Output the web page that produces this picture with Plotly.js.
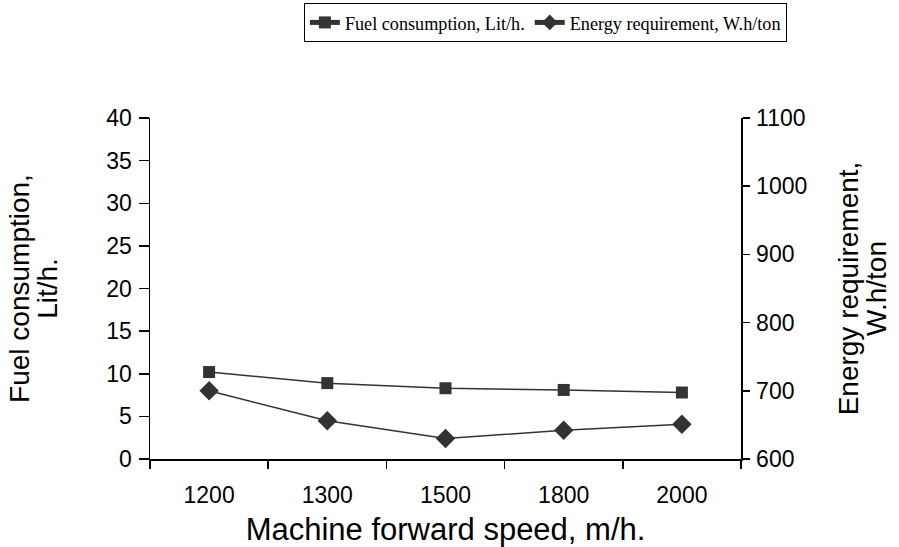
<!DOCTYPE html>
<html>
<head>
<meta charset="utf-8">
<script src="https://cdn.plot.ly/plotly-3.0.1.min.js"></script>
<style>html,body{margin:0;padding:0;background:#fff;}#chart{width:899px;height:547px;}</style>
</head>
<body>
<div id="chart"></div>
<script>
// Data
const speeds = ['1200', '1300', '1500', '1800', '2000'];
const fuelConsumption = [10.2, 8.9, 8.3, 8.1, 7.8];
const energyRequirement = [700, 656, 630, 642, 651];
const fuelName = 'Fuel consumption, Lit/h.';
const energyName = 'Energy requirement, W.h/ton';
const leftTicks = [0, 5, 10, 15, 20, 25, 30, 35, 40];
const rightTicks = [600, 700, 800, 900, 1000, 1100];
const xTitle = 'Machine forward speed, m/h.';
const leftTitleLines = ['Fuel consumption,', 'Lit/h.'];
const rightTitleLines = ['Energy requirement,', 'W.h/ton'];

const ink = '#333333';
const sans = 'Liberation Sans, Arial, sans-serif';
const tickFont = {family: sans, size: 23, color: '#000'};
const yTitleSize = 28;
function bigLines(lines) {
  return lines.map(l => '<span style="font-size:' + yTitleSize + 'px">' + l + '</span>').join('<br>');
}

const traces = [
  {
    x: speeds, y: fuelConsumption, name: fuelName, type: 'scatter', mode: 'lines+markers',
    xaxis: 'x', yaxis: 'y',
    line: {color: ink, width: 1.5},
    marker: {symbol: 'square', size: 12, color: ink}
  },
  {
    x: speeds, y: energyRequirement, name: energyName, type: 'scatter', mode: 'lines+markers',
    xaxis: 'x', yaxis: 'y2',
    line: {color: ink, width: 1.5},
    marker: {symbol: 'diamond', size: 15, color: ink}
  }
];

const boundaries = [];
for (let i = 0; i <= speeds.length; i++) boundaries.push(i - 0.5);

const layout = {
  width: 899, height: 547,
  margin: {l: 150, r: 158, t: 118, b: 88, autoexpand: false},
  paper_bgcolor: '#fff', plot_bgcolor: '#fff',
  showlegend: true,
  legend: {
    orientation: 'h', x: 0.669, xanchor: 'center', y: 1.337, yanchor: 'top',
    bordercolor: '#000', borderwidth: 1,
    font: {family: 'Liberation Serif, Times New Roman, serif', size: 18.2, color: '#000'},
    itemwidth: 30, itemsizing: 'constant', tracegroupgap: 0
  },
  xaxis: {
    type: 'category', categoryarray: speeds, range: [-0.5, speeds.length - 0.5],
    tickson: 'boundaries', ticks: 'outside', ticklen: 8, tickwidth: 1.5, tickcolor: '#000',
    showline: true, linecolor: '#000', linewidth: 1.5, showgrid: false, zeroline: false,
    tickfont: tickFont, ticklabelstandoff: 15,
    title: {text: xTitle, font: {family: sans, size: 31, color: '#000'}, standoff: 14}
  },
  xaxis2: {
    type: 'linear', overlaying: 'x', anchor: 'y', side: 'bottom',
    range: [-0.5, speeds.length - 0.5], tickvals: boundaries,
    ticks: 'inside', ticklen: 7, tickwidth: 1.5, tickcolor: '#000',
    showticklabels: false, showline: false, showgrid: false, zeroline: false
  },
  yaxis: {
    range: [0, 40], tickvals: leftTicks, ticks: 'outside', ticklen: 10, tickwidth: 1.5, tickcolor: '#000',
    showline: true, linecolor: '#000', linewidth: 1.5, showgrid: false, zeroline: false,
    tickfont: tickFont, ticklabelstandoff: 2,
    automargin: true,
    title: {text: bigLines(leftTitleLines), font: {family: sans, size: 21, color: '#000'}, standoff: 43}
  },
  yaxis2: {
    range: [600, 1100], tickvals: rightTicks, overlaying: 'y', side: 'right', anchor: 'x',
    ticks: 'outside', ticklen: 7, tickwidth: 1.5, tickcolor: '#000',
    showline: true, linecolor: '#000', linewidth: 1.5, showgrid: false, zeroline: false,
    tickfont: tickFont, ticklabelstandoff: 2,
    automargin: true,
    title: {text: bigLines(rightTitleLines), font: {family: sans, size: 21, color: '#000'}, standoff: 37}
  },
  yaxis3: {
    range: [0, 40], tickvals: leftTicks, overlaying: 'y', side: 'left', anchor: 'x',
    ticks: 'inside', ticklen: 6, tickwidth: 1.5, tickcolor: '#000',
    showticklabels: false, showline: false, showgrid: false, zeroline: false
  },
  yaxis4: {
    range: [600, 1100], tickvals: rightTicks, overlaying: 'y', side: 'right', anchor: 'x',
    ticks: 'inside', ticklen: 7, tickwidth: 1.5, tickcolor: '#000',
    showticklabels: false, showline: false, showgrid: false, zeroline: false
  }
};

Plotly.newPlot('chart', traces, layout, {displayModeBar: false, staticPlot: true});
</script>
</body>
</html>
